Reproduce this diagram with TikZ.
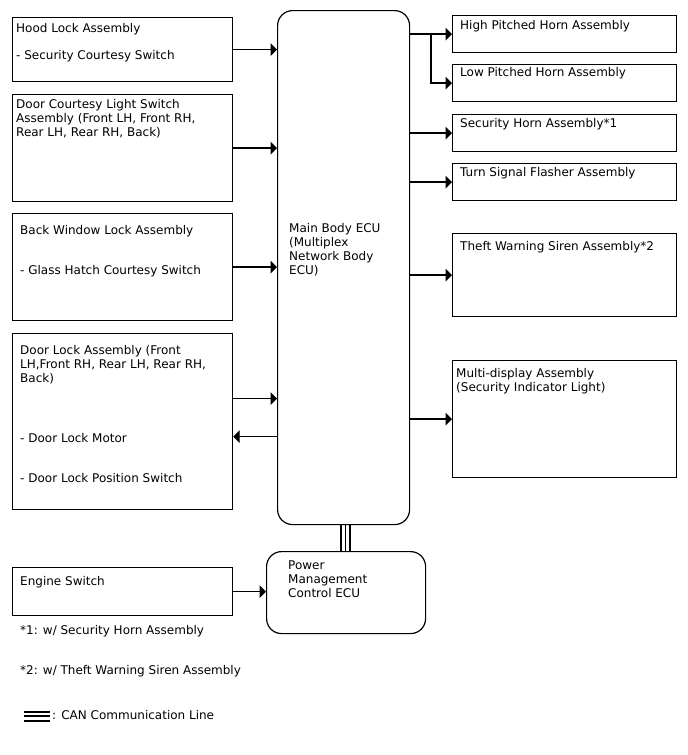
\documentclass[tikz,border=0pt]{standalone}
\usepackage{fontspec}
\setmainfont{DejaVu Sans}
\usetikzlibrary{arrows.meta}
\usetikzlibrary{calc}

\begin{document}
\begin{tikzpicture}[x=1pt,y=-1pt,
    box/.style={draw, line width=1.2pt, anchor=north west, inner sep=0pt},
    ecubox/.style={box, rounded corners=15pt},
    txt/.style={anchor=north west, inner sep=0pt, align=left, font=\fontsize{12}{14}\selectfont},
    note/.style={anchor=base west, inner sep=0pt, font=\fontsize{12}{14}\selectfont},
    arr/.style={line width=1.4pt, -{Triangle[length=6.5pt,width=12.5pt]}},
    can/.style={line width=#1}]
    \useasboundingbox (0,0) rectangle (688,755);

    % inputs
    \node[box, minimum width=220pt, minimum height=64pt] (hood) at (12,17) {};
    \node[txt] (hoodt) at ([shift={(4,6)}]hood.north west) {Hood Lock Assembly\\[13pt]- Security Courtesy Switch};
    \node[box, minimum width=220pt, minimum height=107pt] (dcl) at (12,94) {};
    \node[txt] (dclt) at ([shift={(4,5)}]dcl.north west) {Door Courtesy Light Switch\\Assembly (Front LH, Front RH,\\Rear LH, Rear RH, Back)};
    \node[box, minimum width=220pt, minimum height=107pt] (bw) at (12,213) {};
    \node[txt] (bwt) at ([shift={(8,12)}]bw.north west) {Back Window Lock Assembly\\[26pt]- Glass Hatch Courtesy Switch};
    \node[box, minimum width=220pt, minimum height=176pt] (dl) at (12,333) {};
    \node[txt] (dlt) at ([shift={(8,12)}]dl.north west) {Door Lock Assembly (Front\\LH,Front RH, Rear LH, Rear RH,\\Back)\\[46pt]- Door Lock Motor\\[26pt]- Door Lock Position Switch};
    \node[box, minimum width=220pt, minimum height=48pt] (eng) at (12,567) {};
    \node[txt] (engt) at ([shift={(8,9)}]eng.north west) {Engine Switch};

    % ECUs
    \node[ecubox, minimum width=132pt, minimum height=514pt] (ecu) at (277,10) {};
    \node[txt] (ecut) at (289,223) {Main Body ECU\\(Multiplex\\Network Body\\ECU)};
    \node[ecubox, minimum width=159pt, minimum height=82pt] (pm) at (266,551) {};
    \node[txt] (pmt) at (288,561) {Power\\Management\\Control ECU};

    % outputs
    \node[box, minimum width=224pt, minimum height=37pt] (hph) at (452,15) {};
    \node[txt] (hpht) at ([shift={(8,5)}]hph.north west) {High Pitched Horn Assembly};
    \node[box, minimum width=224pt, minimum height=37pt] (lph) at (452,64) {};
    \node[txt] (lpht) at ([shift={(8,3)}]lph.north west) {Low Pitched Horn Assembly};
    \node[box, minimum width=224pt, minimum height=37pt] (shn) at (452,114) {};
    \node[txt] (shnt) at ([shift={(8,4.6)}]shn.north west) {Security Horn Assembly*1};
    \node[box, minimum width=224pt, minimum height=37pt] (tsf) at (452,163) {};
    \node[txt] (tsft) at ([shift={(8,4.6)}]tsf.north west) {Turn Signal Flasher Assembly};
    \node[box, minimum width=224pt, minimum height=83pt] (tws) at (452,233) {};
    \node[txt] (twst) at ([shift={(8,8)}]tws.north west) {Theft Warning Siren Assembly*2};
    \node[box, minimum width=224pt, minimum height=117pt] (mda) at (452,360) {};
    \node[txt] (mdat) at ([shift={(4,8)}]mda.north west) {Multi-display Assembly\\(Security Indicator Light)};

    % connectors
    \draw[arr] (hood.east) -- (hood.east -| ecu.west);
    \draw[arr] (dcl.east) -- (dcl.east -| ecu.west);
    \draw[arr] (bw.east) -- (bw.east -| ecu.west);
    \coordinate (dlin) at ([yshift=23pt]dl.east);
    \coordinate (dlout) at ([yshift=-15pt]dl.east);
    \draw[arr] (dlin) -- (dlin -| ecu.west);
    \draw[arr] (dlout -| ecu.west) -- (dlout);
    \draw[arr] (eng.east) -- (eng.east -| pm.west);

    \draw[arr] (hph.west -| ecu.east) -- (hph.west);
    \coordinate (hb) at ($(hph.west -| ecu.east)!.5!(hph.west)$);
    \draw[arr] (hb) |- (lph.west);
    \foreach \b in {shn,tsf,tws,mda}
        \draw[arr] (\b.west -| ecu.east) -- (\b.west);

    % CAN line
    \foreach \d/\w in {-3/1.8pt,1.5/1.1pt,6/1.8pt}
        \draw[can=\w] ([xshift=\d pt]ecu.south) -- ([xshift=\d pt]ecu.south |- pm.north);

    % notes
    \node[note] (n1) at (20,634) {*1: w/ Security Horn Assembly};
    \node[note] (n2) at (20,674) {*2: w/ Theft Warning Siren Assembly};
    \coordinate (cl) at (24,716);
    \foreach \d/\w in {-3.8/1.8pt,0/1.6pt,4.6/2.2pt}
        \draw[can=\w] ([yshift=-\d pt]cl) -- ++(26,0);
    \node[note] (n3) at (52,719) {: CAN Communication Line};
\end{tikzpicture}
\end{document}
